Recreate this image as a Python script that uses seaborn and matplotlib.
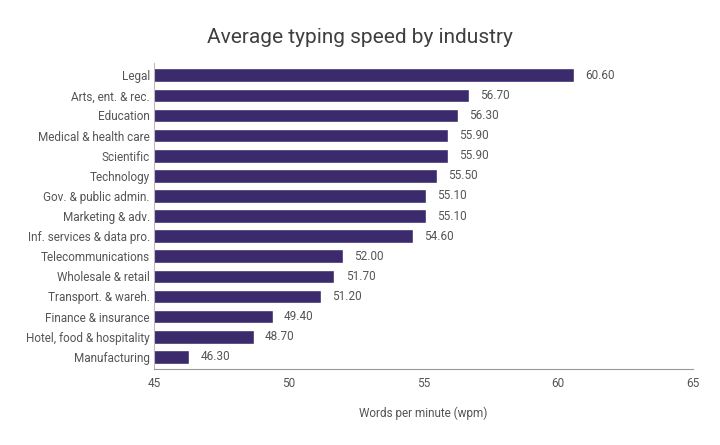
import matplotlib
matplotlib.use('Agg')
import matplotlib.pyplot as plt
import seaborn as sns
import pandas as pd

# --- dados ---
industrias = [
    'Legal', 'Arts, ent. & rec.', 'Education', 'Medical & health care',
    'Scientific', 'Technology', 'Gov. & public admin.', 'Marketing & adv.',
    'Inf. services & data pro.', 'Telecommunications', 'Wholesale & retail',
    'Transport. & wareh.', 'Finance & insurance', 'Hotel, food & hospitality',
    'Manufacturing'
]
velocidade_wpm = [60.6, 56.7, 56.3, 55.9, 55.9, 55.5, 55.1, 55.1,
                  54.6, 52.0, 51.7, 51.2, 49.4, 48.7, 46.3]
ticks_x = [45, 50, 55, 60, 65]

cor_barra = '#3b2a6c'
cor_texto = '#555555'

df = pd.DataFrame({'industria': industrias, 'wpm': velocidade_wpm})

sns.set_theme(style='white')
plt.rcParams['font.family'] = ['Roboto', 'DejaVu Sans']

fig = plt.figure(figsize=(7.2, 4.45), dpi=100)
ax = fig.add_axes([0.214, 0.171, 0.748, 0.687])

sns.barplot(data=df, x='wpm', y='industria', color=cor_barra, width=0.68,
            saturation=1, ax=ax)

for i, v in enumerate(df['wpm']):
    ax.annotate(f'{v:.2f}', xy=(v, i), xytext=(8, 0), textcoords='offset points',
                va='center', ha='left', fontsize=8.5, color=cor_texto)

ax.set_xlim(45, 65)
ax.set_ylim(14.6, -0.6)
ax.set_xticks(ticks_x)
ax.set_xticklabels([str(t) for t in ticks_x])
ax.tick_params(axis='both', length=0, labelsize=8.5, colors=cor_texto)
ax.tick_params(axis='x', pad=6)
ax.tick_params(axis='y', pad=3)
ax.set_ylabel('')
ax.set_xlabel('Words per minute (wpm)', fontsize=8.5, color=cor_texto, labelpad=12)

for lado in ['top', 'right']:
    ax.spines[lado].set_visible(False)
ax.spines['left'].set_color('#bbbbbb')
ax.spines['left'].set_linewidth(0.8)
ax.spines['bottom'].set_color('#999999')
ax.spines['bottom'].set_linewidth(0.8)

fig.text(0.5, 0.915, 'Average typing speed by industry', ha='center', va='center',
         fontsize=15, color='#3f3f3f')

fig.savefig('out.png', dpi=100)
